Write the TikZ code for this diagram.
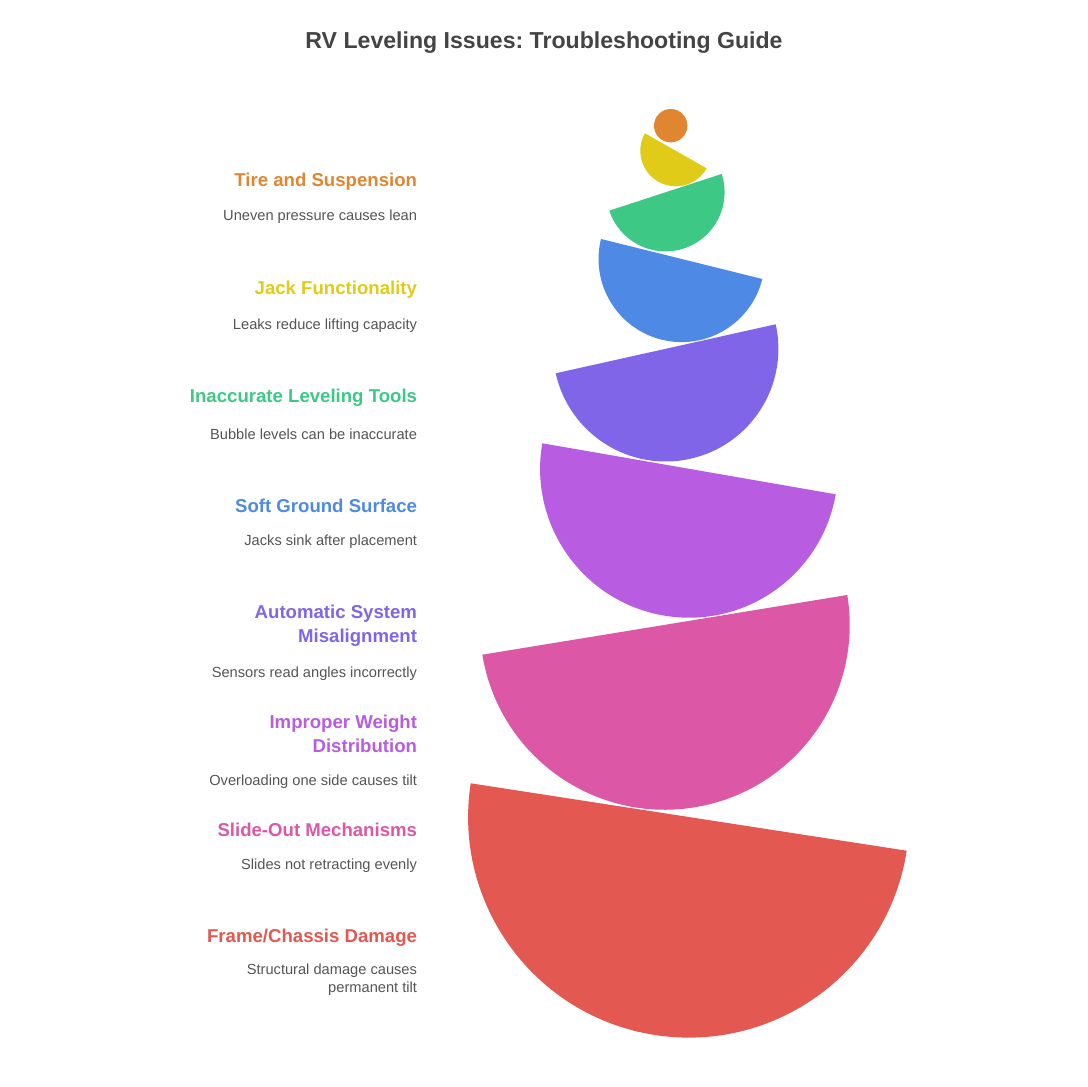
\documentclass[tikz,border=0pt]{standalone}
\usepackage{fontspec}
\setmainfont{Liberation Sans}
\frenchspacing
\definecolor{cOrange}{HTML}{E08631}
\definecolor{cYellow}{HTML}{E0CC18}
\definecolor{cGreen}{HTML}{3DC886}
\definecolor{cBlue}{HTML}{4E8AE5}
\definecolor{cPurple}{HTML}{8065E8}
\definecolor{cOrchid}{HTML}{B85CE1}
\definecolor{cPink}{HTML}{DC58A6}
\definecolor{cRed}{HTML}{E45852}
\definecolor{cTitle}{HTML}{444444}
\definecolor{cDesc}{HTML}{555555}
\newcommand{\halfdisk}[5]{% color, cx, cy, phi, r
  \fill[#1] ([shift={({#4+180}:#5)}]#2,#3) arc[start angle={#4+180}, end angle={#4+360}, radius=#5] -- cycle;}
\begin{document}
\begin{tikzpicture}[x=1pt,y=1pt,
  heading/.style={anchor=east, align=right, font=\bfseries\fontsize{18.6}{24}\selectfont},
  desc/.style={anchor=east, align=right, text=cDesc, font=\fontsize{14.65}{18}\selectfont},
  inner sep=0pt, outer sep=0pt]
\useasboundingbox (0,0) rectangle (1088,1087);
\fill[white] (0,0) rectangle (1088,1087);
\node[font=\bfseries\fontsize{23.1}{28}\selectfont, text=cTitle] (title) at (544,1044) {RV Leveling Issues: Troubleshooting Guide};
% shapes
\fill[cOrange] (670.7,961.3) circle[radius=16.7];
\halfdisk{cYellow}{675.8}{936.2}{-29.56}{35.5}
\halfdisk{cGreen}{665.5}{894.7}{18.08}{59.1}
\halfdisk{cBlue}{681.65}{828}{-13.93}{83.1}
\halfdisk{cPurple}{665.7}{738.2}{12.56}{112.7}
\halfdisk{cOrchid}{689}{618.2}{-9.86}{148.9}
\halfdisk{cPink}{664.8}{462.15}{9.29}{184.9}
\halfdisk{cRed}{688.7}{270}{-8.79}{220.6}
% labels
\node[heading, text=cOrange] (h1) at (417,905) {Tire and Suspension};
\node[desc] (d1) at (417,870) {Uneven pressure causes lean};
\node[heading, text=cYellow] (h2) at (417,797) {Jack Functionality};
\node[desc] (d2) at (417,761) {Leaks reduce lifting capacity};
\node[heading, text=cGreen] (h3) at (417,689) {Inaccurate Leveling Tools};
\node[desc] (d3) at (417,653) {Bubble levels can be inaccurate};
\node[heading, text=cBlue] (h4) at (417,581) {Soft Ground Surface};
\node[desc] (d4) at (417,545) {Jacks sink after placement};
\node[heading, text=cPurple] (h5) at (417,461) {Automatic System\\Misalignment};
\node[desc] (d5) at (417,413) {Sensors read angles incorrectly};
\node[heading, text=cOrchid] (h6) at (417,353) {Improper Weight\\Distribution};
\node[desc] (d6) at (417,305) {Overloading one side causes tilt};
\node[heading, text=cPink] (h7) at (417,257) {Slide-Out Mechanisms};
\node[desc] (d7) at (417,221) {Slides not retracting evenly};
\node[heading, text=cRed] (h8) at (417,149) {Frame/Chassis Damage};
\node[desc] (d8) at (417,107) {Structural damage causes\\permanent tilt};
\end{tikzpicture}
\end{document}
